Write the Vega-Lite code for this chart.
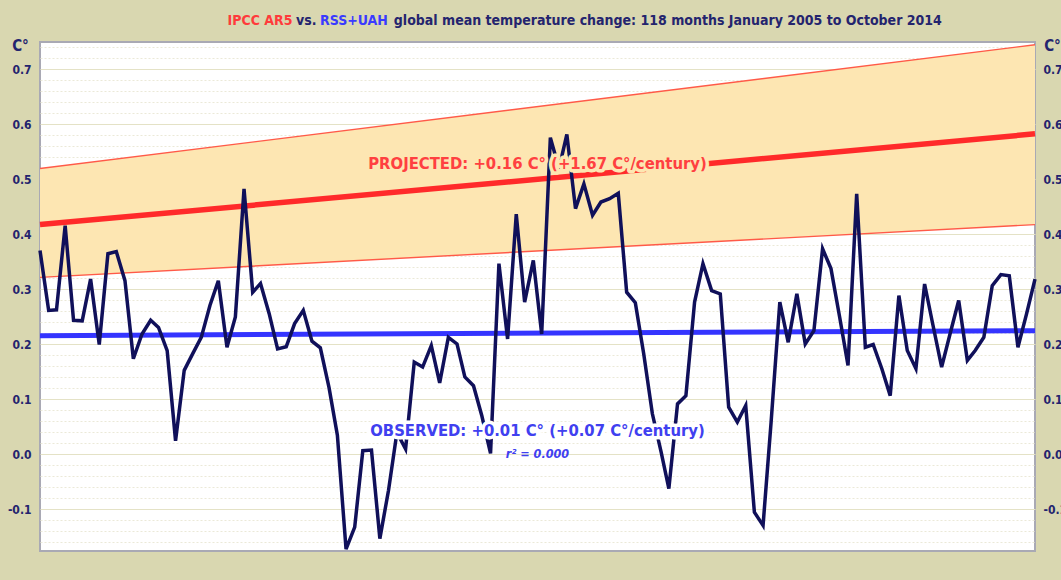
{
  "$schema": "https://vega.github.io/schema/vega-lite/v6.json",
  "width": 995,
  "height": 509,
  "autosize": {"type": "none"},
  "padding": {"left": 40, "top": 42, "right": 26, "bottom": 29},
  "background": "#d9d7b0",
  "config": {
    "view": {"fill": "#ffffff", "stroke": "#a9a9b4", "strokeWidth": 2},
    "axis": {
      "domain": false,
      "ticks": false,
      "labelFont": "DejaVu Sans Condensed, sans-serif",
      "labelFontWeight": "bold",
      "labelColor": "#24246e",
      "labelFontSize": 12,
      "titleFont": "DejaVu Sans Condensed, sans-serif",
      "titleFontWeight": "bold",
      "titleColor": "#24246e",
      "titleFontSize": 15
    }
  },
  "datasets": {
    "obs": [
      {"date": "2005/01/01", "anomaly": 0.371}, {"date": "2005/02/01", "anomaly": 0.262}, {"date": "2005/03/01", "anomaly": 0.263}, {"date": "2005/04/01", "anomaly": 0.416}, {"date": "2005/05/01", "anomaly": 0.244}, {"date": "2005/06/01", "anomaly": 0.243}, {"date": "2005/07/01", "anomaly": 0.319}, {"date": "2005/08/01", "anomaly": 0.2}, {"date": "2005/09/01", "anomaly": 0.365}, {"date": "2005/10/01", "anomaly": 0.369}, {"date": "2005/11/01", "anomaly": 0.316}, {"date": "2005/12/01", "anomaly": 0.174},
      {"date": "2006/01/01", "anomaly": 0.219}, {"date": "2006/02/01", "anomaly": 0.244}, {"date": "2006/03/01", "anomaly": 0.231}, {"date": "2006/04/01", "anomaly": 0.189}, {"date": "2006/05/01", "anomaly": 0.025}, {"date": "2006/06/01", "anomaly": 0.153}, {"date": "2006/07/01", "anomaly": 0.183}, {"date": "2006/08/01", "anomaly": 0.213}, {"date": "2006/09/01", "anomaly": 0.271}, {"date": "2006/10/01", "anomaly": 0.316}, {"date": "2006/11/01", "anomaly": 0.195}, {"date": "2006/12/01", "anomaly": 0.25},
      {"date": "2007/01/01", "anomaly": 0.483}, {"date": "2007/02/01", "anomaly": 0.295}, {"date": "2007/03/01", "anomaly": 0.311}, {"date": "2007/04/01", "anomaly": 0.256}, {"date": "2007/05/01", "anomaly": 0.192}, {"date": "2007/06/01", "anomaly": 0.196}, {"date": "2007/07/01", "anomaly": 0.238}, {"date": "2007/08/01", "anomaly": 0.262}, {"date": "2007/09/01", "anomaly": 0.206}, {"date": "2007/10/01", "anomaly": 0.194}, {"date": "2007/11/01", "anomaly": 0.122}, {"date": "2007/12/01", "anomaly": 0.035},
      {"date": "2008/01/01", "anomaly": -0.172}, {"date": "2008/02/01", "anomaly": -0.132}, {"date": "2008/03/01", "anomaly": 0.007}, {"date": "2008/04/01", "anomaly": 0.008}, {"date": "2008/05/01", "anomaly": -0.153}, {"date": "2008/06/01", "anomaly": -0.065}, {"date": "2008/07/01", "anomaly": 0.04}, {"date": "2008/08/01", "anomaly": 0.01}, {"date": "2008/09/01", "anomaly": 0.168}, {"date": "2008/10/01", "anomaly": 0.159}, {"date": "2008/11/01", "anomaly": 0.198}, {"date": "2008/12/01", "anomaly": 0.13},
      {"date": "2009/01/01", "anomaly": 0.213}, {"date": "2009/02/01", "anomaly": 0.201}, {"date": "2009/03/01", "anomaly": 0.141}, {"date": "2009/04/01", "anomaly": 0.125}, {"date": "2009/05/01", "anomaly": 0.07}, {"date": "2009/06/01", "anomaly": 0.002}, {"date": "2009/07/01", "anomaly": 0.347}, {"date": "2009/08/01", "anomaly": 0.21}, {"date": "2009/09/01", "anomaly": 0.437}, {"date": "2009/10/01", "anomaly": 0.277}, {"date": "2009/11/01", "anomaly": 0.353}, {"date": "2009/12/01", "anomaly": 0.219},
      {"date": "2010/01/01", "anomaly": 0.576}, {"date": "2010/02/01", "anomaly": 0.52}, {"date": "2010/03/01", "anomaly": 0.582}, {"date": "2010/04/01", "anomaly": 0.447}, {"date": "2010/05/01", "anomaly": 0.492}, {"date": "2010/06/01", "anomaly": 0.435}, {"date": "2010/07/01", "anomaly": 0.459}, {"date": "2010/08/01", "anomaly": 0.465}, {"date": "2010/09/01", "anomaly": 0.475}, {"date": "2010/10/01", "anomaly": 0.295}, {"date": "2010/11/01", "anomaly": 0.276}, {"date": "2010/12/01", "anomaly": 0.183},
      {"date": "2011/01/01", "anomaly": 0.074}, {"date": "2011/02/01", "anomaly": 0.005}, {"date": "2011/03/01", "anomaly": -0.062}, {"date": "2011/04/01", "anomaly": 0.092}, {"date": "2011/05/01", "anomaly": 0.107}, {"date": "2011/06/01", "anomaly": 0.277}, {"date": "2011/07/01", "anomaly": 0.347}, {"date": "2011/08/01", "anomaly": 0.298}, {"date": "2011/09/01", "anomaly": 0.292}, {"date": "2011/10/01", "anomaly": 0.086}, {"date": "2011/11/01", "anomaly": 0.059}, {"date": "2011/12/01", "anomaly": 0.089},
      {"date": "2012/01/01", "anomaly": -0.105}, {"date": "2012/02/01", "anomaly": -0.129}, {"date": "2012/03/01", "anomaly": 0.06}, {"date": "2012/04/01", "anomaly": 0.277}, {"date": "2012/05/01", "anomaly": 0.204}, {"date": "2012/06/01", "anomaly": 0.292}, {"date": "2012/07/01", "anomaly": 0.201}, {"date": "2012/08/01", "anomaly": 0.225}, {"date": "2012/09/01", "anomaly": 0.374}, {"date": "2012/10/01", "anomaly": 0.338}, {"date": "2012/11/01", "anomaly": 0.25}, {"date": "2012/12/01", "anomaly": 0.162},
      {"date": "2013/01/01", "anomaly": 0.474}, {"date": "2013/02/01", "anomaly": 0.195}, {"date": "2013/03/01", "anomaly": 0.2}, {"date": "2013/04/01", "anomaly": 0.156}, {"date": "2013/05/01", "anomaly": 0.107}, {"date": "2013/06/01", "anomaly": 0.289}, {"date": "2013/07/01", "anomaly": 0.189}, {"date": "2013/08/01", "anomaly": 0.156}, {"date": "2013/09/01", "anomaly": 0.31}, {"date": "2013/10/01", "anomaly": 0.235}, {"date": "2013/11/01", "anomaly": 0.159}, {"date": "2013/12/01", "anomaly": 0.219},
      {"date": "2014/01/01", "anomaly": 0.28}, {"date": "2014/02/01", "anomaly": 0.171}, {"date": "2014/03/01", "anomaly": 0.189}, {"date": "2014/04/01", "anomaly": 0.213}, {"date": "2014/05/01", "anomaly": 0.307}, {"date": "2014/06/01", "anomaly": 0.327}, {"date": "2014/07/01", "anomaly": 0.325}, {"date": "2014/08/01", "anomaly": 0.195}, {"date": "2014/09/01", "anomaly": 0.256}, {"date": "2014/10/01", "anomaly": 0.319}
    ],
    "proj": [
      {"date": "2005/01/01", "lo": 0.322, "mid": 0.418, "hi": 0.52},
      {"date": "2014/10/01", "lo": 0.418, "mid": 0.583, "hi": 0.745}
    ],
    "trend": [
      {"date": "2005/01/01", "v": 0.216},
      {"date": "2014/10/01", "v": 0.225}
    ],
    "titleParts": [
      {"date": "2006/11/03", "v": 0.789, "text": "IPCC AR5", "part": "ipcc"},
      {"date": "2007/07/06", "v": 0.789, "text": "vs.", "part": "plain"},
      {"date": "2007/09/30", "v": 0.789, "text": "RSS+UAH", "part": "rss"},
      {"date": "2008/06/20", "v": 0.789, "text": "global mean temperature change: 118 months January 2005 to October 2014", "part": "plain2"}
    ],
    "projLabel": [{"date": "2009/11/16", "v": 0.529, "text": "PROJECTED: +0.16 C° (+1.67 C°/century)"}],
    "obsLabel": [{"date": "2009/11/16", "v": 0.0436, "text": "OBSERVED: +0.01 C° (+0.07 C°/century)"}],
    "r2Label": [{"date": "2009/11/16", "v": 0.001, "text": "r² = 0.000"}]
  },
  "layer": [
    {
      "data": {"name": "proj"},
      "mark": {"type": "area", "color": "#fde6b2", "opacity": 1},
      "encoding": {
        "x": {
          "field": "date", "type": "temporal",
          "scale": {"domain": [{"year": 2005, "month": 1, "date": 1}, {"year": 2014, "month": 10, "date": 1}]},
          "axis": {
            "title": null,
            "values": [
              {"year": 2005, "month": 7, "date": 1}, {"year": 2006, "month": 1, "date": 1}, {"year": 2006, "month": 7, "date": 1},
              {"year": 2007, "month": 1, "date": 1}, {"year": 2007, "month": 7, "date": 1}, {"year": 2008, "month": 1, "date": 1},
              {"year": 2008, "month": 7, "date": 1}, {"year": 2009, "month": 1, "date": 1}, {"year": 2009, "month": 7, "date": 1},
              {"year": 2010, "month": 1, "date": 1}, {"year": 2010, "month": 7, "date": 1}, {"year": 2011, "month": 1, "date": 1},
              {"year": 2011, "month": 7, "date": 1}, {"year": 2012, "month": 1, "date": 1}, {"year": 2012, "month": 7, "date": 1},
              {"year": 2013, "month": 1, "date": 1}, {"year": 2013, "month": 7, "date": 1}, {"year": 2014, "month": 1, "date": 1},
              {"year": 2014, "month": 7, "date": 1}
            ],
            "labelExpr": "month(datum.value) == 0 ? timeFormat(datum.value, '%Y') : ''",
            "labelOverlap": false,
            "labelFlush": false,
            "labelPadding": 9,
            "grid": true,
            "gridColor": "#e7e5c9",
            "gridWidth": 1.5
          }
        },
        "y": {
          "field": "lo", "type": "quantitative",
          "scale": {"domain": [-0.1755, 0.75], "nice": false, "zero": false},
          "axis": {
            "orient": "left",
            "title": "C°",
            "titleAngle": 0,
            "titleX": -20,
            "titleY": 3,
            "titleAlign": "center",
            "titleBaseline": "middle",
            "values": [-0.16, -0.14, -0.12, -0.1, -0.08, -0.06, -0.04, -0.02, 0, 0.02, 0.04, 0.06, 0.08, 0.1, 0.12, 0.14, 0.16, 0.18, 0.2, 0.22, 0.24, 0.26, 0.28, 0.3, 0.32, 0.34, 0.36, 0.38, 0.4, 0.42, 0.44, 0.46, 0.48, 0.5, 0.52, 0.54, 0.56, 0.58, 0.6, 0.62, 0.64, 0.66, 0.68, 0.7, 0.72, 0.74],
            "labelExpr": "abs(datum.value * 10 - round(datum.value * 10)) < 0.01 ? replace(format(datum.value, '.1f'), '\u2212', '-') : ''",
            "labelPadding": 9,
            "labelOverlap": false,
            "grid": true,
            "gridColor": {"condition": {"test": "abs(datum.value * 10 - round(datum.value * 10)) < 0.01", "value": "#e4e2c6"}, "value": "#ebe9d8"},
            "gridDash": {"condition": {"test": "abs(datum.value * 10 - round(datum.value * 10)) < 0.01", "value": []}, "value": [2, 2]},
            "gridWidth": 1.2
          }
        },
        "y2": {"field": "hi"}
      }
    },
    {
      "data": {"name": "proj"},
      "mark": {"type": "line", "color": "#ff5a48", "strokeWidth": 1.4},
      "encoding": {
        "x": {"field": "date", "type": "temporal", "axis": null},
        "y": {"field": "hi", "type": "quantitative", "axis": null}
      }
    },
    {
      "data": {"name": "proj"},
      "mark": {"type": "line", "color": "#ff5a48", "strokeWidth": 1.4},
      "encoding": {
        "x": {"field": "date", "type": "temporal", "axis": null},
        "y": {"field": "lo", "type": "quantitative", "axis": null}
      }
    },
    {
      "data": {"name": "proj"},
      "mark": {"type": "line", "color": "#ff2a2a", "strokeWidth": 5.5},
      "encoding": {
        "x": {"field": "date", "type": "temporal", "axis": null},
        "y": {"field": "mid", "type": "quantitative", "axis": null}
      }
    },
    {
      "data": {"name": "trend"},
      "mark": {"type": "line", "color": "#3434ff", "strokeWidth": 5},
      "encoding": {
        "x": {"field": "date", "type": "temporal", "axis": null},
        "y": {"field": "v", "type": "quantitative", "axis": null}
      }
    },
    {
      "data": {"name": "obs"},
      "mark": {"type": "line", "color": "#10105a", "strokeWidth": 3.5, "strokeJoin": "miter"},
      "encoding": {
        "x": {"field": "date", "type": "temporal", "axis": null},
        "y": {
          "field": "anomaly", "type": "quantitative",
          "axis": {
            "orient": "right",
            "title": "C°",
            "titleAngle": 0,
            "titleX": 17,
            "titleY": 3,
            "titleAlign": "center",
            "titleBaseline": "middle",
            "values": [-0.1, 0, 0.1, 0.2, 0.3, 0.4, 0.5, 0.6, 0.7],
            "labelExpr": "replace(format(datum.value, '.1f'), '\u2212', '-')",
            "labelPadding": 8,
            "labelOverlap": false,
            "grid": false
          }
        }
      }
    },
    {
      "data": {"name": "projLabel"},
      "mark": {"type": "text", "font": "DejaVu Sans Condensed, sans-serif", "fontWeight": "bold", "fontSize": 16.5, "align": "center", "baseline": "middle", "color": "#fde6b2", "stroke": "#fde6b2", "strokeWidth": 7, "strokeJoin": "round"},
      "encoding": {
        "x": {"field": "date", "type": "temporal", "axis": null},
        "y": {"field": "v", "type": "quantitative", "axis": null},
        "text": {"field": "text"}
      }
    },
    {
      "data": {"name": "projLabel"},
      "mark": {"type": "text", "font": "DejaVu Sans Condensed, sans-serif", "fontWeight": "bold", "fontSize": 16.5, "align": "center", "baseline": "middle", "color": "#ff4040"},
      "encoding": {
        "x": {"field": "date", "type": "temporal", "axis": null},
        "y": {"field": "v", "type": "quantitative", "axis": null},
        "text": {"field": "text"}
      }
    },
    {
      "data": {"name": "obsLabel"},
      "mark": {"type": "text", "font": "DejaVu Sans Condensed, sans-serif", "fontWeight": "bold", "fontSize": 16.5, "align": "center", "baseline": "middle", "color": "#ffffff", "stroke": "#ffffff", "strokeWidth": 7, "strokeJoin": "round"},
      "encoding": {
        "x": {"field": "date", "type": "temporal", "axis": null},
        "y": {"field": "v", "type": "quantitative", "axis": null},
        "text": {"field": "text"}
      }
    },
    {
      "data": {"name": "obsLabel"},
      "mark": {"type": "text", "font": "DejaVu Sans Condensed, sans-serif", "fontWeight": "bold", "fontSize": 16.5, "align": "center", "baseline": "middle", "color": "#4040f0"},
      "encoding": {
        "x": {"field": "date", "type": "temporal", "axis": null},
        "y": {"field": "v", "type": "quantitative", "axis": null},
        "text": {"field": "text"}
      }
    },
    {
      "data": {"name": "r2Label"},
      "mark": {"type": "text", "font": "DejaVu Sans Condensed, sans-serif", "fontWeight": "bold", "fontStyle": "italic", "fontSize": 12.5, "align": "center", "baseline": "middle", "color": "#4040f0"},
      "encoding": {
        "x": {"field": "date", "type": "temporal", "axis": null},
        "y": {"field": "v", "type": "quantitative", "axis": null},
        "text": {"field": "text"}
      }
    },
    {
      "data": {"name": "titleParts"},
      "mark": {"type": "text", "font": "DejaVu Sans Condensed, sans-serif", "fontWeight": "bold", "fontSize": 14, "align": "left", "baseline": "middle"},
      "encoding": {
        "x": {"field": "date", "type": "temporal", "axis": null},
        "y": {"field": "v", "type": "quantitative", "axis": null},
        "text": {"field": "text"},
        "color": {
          "field": "part", "type": "nominal", "legend": null,
          "scale": {"domain": ["ipcc", "plain", "rss", "plain2"], "range": ["#ff3b3b", "#24246e", "#3a3aff", "#24246e"]}
        }
      }
    }
  ]
}
